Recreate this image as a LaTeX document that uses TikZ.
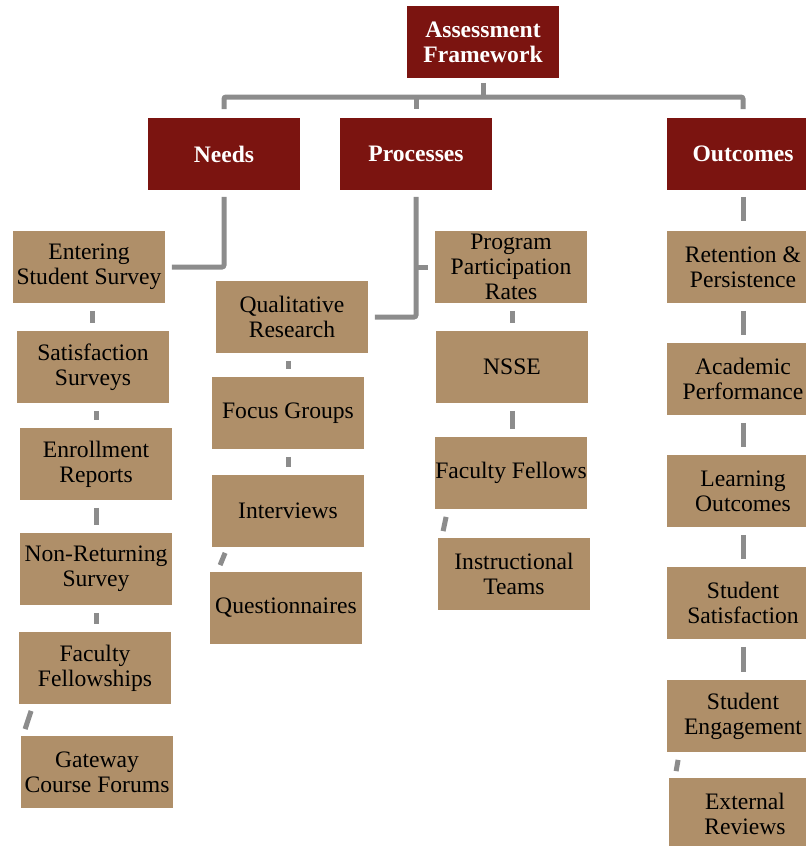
\documentclass[tikz,border=0pt]{standalone}
\usepackage{fontspec}
\setmainfont{Liberation Serif}
\definecolor{headred}{RGB}{123,20,16}
\definecolor{boxtan}{RGB}{175,143,105}
\definecolor{linkgray}{RGB}{140,140,140}
\tikzset{
  head/.style={fill=headred, draw=white, line width=0.4pt, text=white, font=\fontsize{11.8}{12.5}\selectfont\bfseries,
    minimum width=76.5pt, minimum height=36.5pt, inner sep=0pt, align=center},
  item/.style={fill=boxtan, draw=white, line width=0.4pt, text=black, font=\fontsize{11.8}{12.5}\selectfont,
    minimum width=76.5pt, minimum height=36.5pt, inner sep=0pt, align=center},
  link/.style={draw=linkgray, line width=2.5pt, rounded corners=1pt},
  sub/.style={link, shorten <=3.5pt, shorten >=3.5pt}
}
\begin{document}
\begin{tikzpicture}[x=0.5pt,y=-0.5pt]
\useasboundingbox (0,0) rectangle (806,846);
\clip (0,0) rectangle (806,846);

\node[head] (af) at (483,42) {Assessment\\Framework};
\node[head] (needs) at (224,154) {Needs};
\node[head] (proc) at (416,154) {Processes};
\node[head] (out) at (743,154) {Outcomes};

\coordinate (bus) at (483,97);
\draw[link, shorten <=2pt] (af.south) -- (bus);
\draw[link, shorten <=4pt, shorten >=4pt] (needs.north) |- (bus) -| (out.north);
\draw[link, shorten >=4pt] (proc.north |- bus) -- (proc.north);

\node[item] (ess) at (89,267) {Entering\\Student Survey};
\node[item] (sat) at (93,367) {Satisfaction\\Surveys};
\node[item] (enr) at (96,464) {Enrollment\\Reports};
\node[item] (nrs) at (96,569) {Non-Returning\\Survey};
\node[item] (ffs) at (95,668) {Faculty\\Fellowships};
\node[item] (gcf) at (97,772) {Gateway\\Course Forums};

\node[item] (qual) at (292,317) {Qualitative\\Research};
\node[item] (foc) at (288,413) {Focus Groups};
\node[item] (intv) at (288,511) {Interviews};
\node[item] (quest) at (286,608) {Questionnaires};

\node[item] (ppr) at (511,267) {Program\\Participation\\Rates};
\node[item] (nsse) at (512,367) {NSSE};
\node[item] (ffl) at (511,473) {Faculty Fellows};
\node[item] (itm) at (514,574) {Instructional\\Teams};

\node[item] (ret) at (743,267) {Retention \&\\Persistence};
\node[item] (acp) at (743,379) {Academic\\Performance};
\node[item] (lrn) at (743,491) {Learning\\Outcomes};
\node[item] (ssat) at (743,603) {Student\\Satisfaction};
\node[item] (seng) at (743,716) {Student\\Engagement};
\node[item] (ext) at (745,814) {External\\Reviews};

\draw[link, shorten <=3pt, shorten >=3pt] (needs.south) |- (ess.east);
\draw[link, shorten <=3pt, shorten >=3pt] (proc.south) |- (qual.east);
\draw[link, shorten >=3pt] (proc.south |- ppr.west) -- (ppr.west);
\draw[link, shorten <=3pt, shorten >=4.5pt] (out.south) -- (ret.north);

\draw[sub] (ess.south -| 92,0) -- (sat.north -| 92,0);
\draw[sub] (sat.south -| 96,0) -- (enr.north -| 96,0);
\draw[sub] (enr) -- (nrs);
\draw[sub] (nrs.south) -- (nrs.south |- ffs.north);
\draw[link] ([xshift=6.5pt,yshift=-3pt]ffs.south west) -- ([xshift=2.5pt,yshift=3pt]gcf.north west);

\draw[sub] (qual.south -| foc.south) -- (foc.north);
\draw[sub] (foc) -- (intv);
\draw[link] ([xshift=7pt,yshift=-2.5pt]intv.south west) -- ([xshift=5.5pt,yshift=3pt]quest.north west);

\draw[sub] (ppr.south -| nsse.north) -- (nsse.north);
\draw[sub] (nsse.south) -- (nsse.south |- ffl.north);
\draw[link] ([xshift=6pt,yshift=-3.5pt]ffl.south west) -- ([xshift=3pt,yshift=3pt]itm.north west);

\draw[sub] (ret) -- (acp);
\draw[sub] (acp) -- (lrn);
\draw[sub] (lrn) -- (ssat);
\draw[sub] (ssat) -- (seng);
\draw[link] ([xshift=6pt,yshift=-3.5pt]seng.south west) -- ([xshift=4pt,yshift=3pt]ext.north west);
\end{tikzpicture}
\end{document}
